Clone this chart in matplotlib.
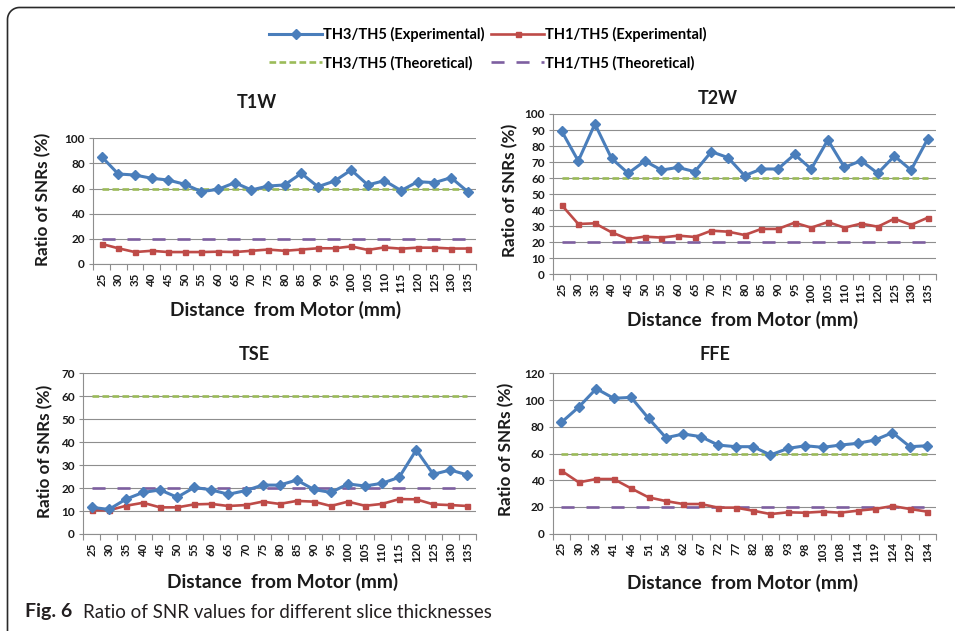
import numpy as np
import matplotlib
matplotlib.use("Agg")
import matplotlib.pyplot as plt
from matplotlib.lines import Line2D

plt.rcParams['font.family'] = ['Lato', 'DejaVu Sans']
plt.rcParams['lines.scale_dashes'] = False

# ---------------- data ----------------
cats_std = ['25', '30', '35', '40', '45', '50', '55', '60', '65', '70', '75', '80',
            '85', '90', '95', '100', '105', '110', '115', '120', '125', '130', '135']
cats_ffe = ['25', '30', '36', '41', '46', '51', '56', '62', '67', '72', '77', '82',
            '88', '93', '98', '103', '108', '114', '119', '124', '129', '134']

t1w_th3 = [85.4, 71.6, 70.8, 68.2, 66.8, 63.4, 57.6, 59.4, 64.7, 58.9, 62.0, 62.9,
           72.1, 61.5, 66.0, 74.8, 62.9, 66.3, 58.4, 65.5, 64.7, 68.7, 57.6]
t1w_th1 = [16.0, 12.5, 9.5, 10.5, 9.5, 9.5, 9.5, 9.8, 9.5, 10.5, 11.5, 10.5,
           11.5, 12.5, 12.5, 14.0, 11.2, 13.2, 12.2, 13.0, 13.0, 12.3, 12.3]

t2w_th3 = [89.4, 70.7, 93.8, 72.3, 63.0, 70.7, 65.0, 66.7, 64.0, 76.5, 72.8, 61.5,
           65.7, 65.7, 74.8, 65.7, 83.8, 66.7, 70.9, 63.0, 73.8, 65.0, 84.4]
t2w_th1 = [43.2, 31.4, 31.8, 26.2, 22.0, 23.5, 22.9, 24.1, 23.3, 27.2, 26.6, 24.5,
           28.3, 28.3, 32.2, 29.1, 32.6, 29.1, 31.6, 29.7, 34.7, 30.8, 35.3]

tse_th3 = [11.6, 10.7, 15.2, 18.1, 19.2, 16.0, 20.3, 19.2, 17.3, 18.9, 21.3, 21.3,
           23.5, 19.4, 18.1, 21.8, 20.9, 22.1, 24.7, 36.6, 26.0, 27.9, 25.7]
tse_th1 = [10.4, 10.3, 12.3, 13.6, 11.6, 11.6, 12.9, 13.1, 12.2, 12.6, 14.1, 13.1,
           14.4, 14.1, 12.2, 14.1, 12.3, 13.1, 15.2, 15.1, 12.9, 12.6, 12.2]

ffe_th3 = [83.3, 94.8, 108.5, 101.3, 102.0, 86.3, 71.8, 74.6, 72.6, 66.3, 65.1, 65.1,
           58.9, 63.8, 65.8, 64.6, 66.3, 67.6, 70.1, 75.6, 65.1, 65.8]
ffe_th1 = [47.1, 38.4, 40.9, 40.9, 33.9, 27.2, 24.4, 22.2, 22.2, 19.5, 19.5, 17.2,
           14.7, 16.0, 15.7, 16.5, 15.7, 17.2, 18.5, 20.7, 18.5, 16.5]

theo_th3 = 60   # theoretical TH3/TH5 ratio (%)
theo_th1 = 20   # theoretical TH1/TH5 ratio (%)

titles = ['T1W', 'T2W', 'TSE', 'FFE']
series_labels = ['TH3/TH5 (Experimental)', 'TH1/TH5 (Experimental)',
                 'TH3/TH5 (Theoretical)', 'TH1/TH5 (Theoretical)']
xlabel = 'Distance  from Motor (mm)'
ylabel = 'Ratio of SNRs (%)'
caption_bold = 'Fig. 6'
caption_text = 'Ratio of SNR values for different slice thicknesses'

# ---------------- style ----------------
BLUE = '#4A7EBB'
RED = '#BE4B48'
GREEN = '#9BBB59'
PURPLE = '#7D5FA0'
GRID = '#8E8E8E'
TXT = '#1a1a1a'

W, H = 955, 631
fig = plt.figure(figsize=(W / 100, H / 100), dpi=100)


def rect(l, t, r, b):
    return [l / W, 1 - b / H, (r - l) / W, (b - t) / H]


def fx(x):
    return x / W


def fy(y):
    return 1 - y / H


panels = [
    dict(title=titles[0], cats=cats_std, th3=t1w_th3, th1=t1w_th1, ymax=100, step=20,
         rect=rect(93.3, 138.3, 476, 264), t=(257, 102), xl=(286, 310), yl=(43, 199)),
    dict(title=titles[1], cats=cats_std, th3=t2w_th3, th1=t2w_th1, ymax=100, step=10,
         rect=rect(553.3, 114, 936, 274.3), t=(718, 98), xl=(743, 320), yl=(510, 190)),
    dict(title=titles[2], cats=cats_std, th3=tse_th3, th1=tse_th1, ymax=70, step=10,
         rect=rect(83.3, 373.3, 476, 534), t=(254, 354), xl=(283, 582), yl=(45, 451)),
    dict(title=titles[3], cats=cats_ffe, th3=ffe_th3, th1=ffe_th1, ymax=120, step=20,
         rect=rect(552.7, 373.3, 936, 533.7), t=(715, 354), xl=(743, 583), yl=(506, 449)),
]

handles = None
for p in panels:
    ax = fig.add_axes(p['rect'])
    n = len(p['cats'])
    x = np.arange(n)
    h_th3, = ax.plot(x, p['th3'], color=BLUE, lw=2.2, marker='D', ms=5.5,
                     zorder=5, label=series_labels[0])
    h_th1, = ax.plot(x, p['th1'], color=RED, lw=1.9, marker='s', ms=3.6,
                     zorder=4, label=series_labels[1])
    h_t3, = ax.plot(x, [theo_th3] * n, color=GREEN, lw=1.9, dashes=(4.8, 2.4),
                    zorder=3, label=series_labels[2])
    h_t1, = ax.plot(x, [theo_th1] * n, color=PURPLE, lw=1.9, dashes=(9.4, 8.6),
                    zorder=3, label=series_labels[3])
    if handles is None:
        handles = [h_th3, h_t3, h_th1, h_t1]

    ax.set_xlim(-0.5, n - 0.5)
    ax.set_ylim(0, p['ymax'])
    ax.set_yticks(np.arange(0, p['ymax'] + 1, p['step']))
    ax.yaxis.grid(True, color=GRID, lw=0.8)
    ax.set_axisbelow(True)
    ax.set_xticks(x)
    ax.set_xticklabels(p['cats'], rotation=90, fontweight='bold', fontsize=8.3,
                       color=TXT)
    ax.set_xticks(np.arange(-0.5, n, 1.0), minor=True)
    ax.tick_params(axis='x', which='major', length=0, pad=6)
    ax.tick_params(axis='x', which='minor', length=4, color=GRID, width=0.8)
    ax.tick_params(axis='y', length=3, color=GRID, width=0.8, labelsize=8.5, pad=3,
                   labelcolor=TXT)
    for lab in ax.get_yticklabels():
        lab.set_fontweight('bold')
    for s in ['top', 'right']:
        ax.spines[s].set_visible(False)
    for s in ['left', 'bottom']:
        ax.spines[s].set_color(GRID)
        ax.spines[s].set_linewidth(0.8)

    fig.text(fx(p['t'][0]), fy(p['t'][1]), p['title'], fontsize=13, fontweight='bold',
             ha='center', va='center', color=TXT)
    fig.text(fx(p['xl'][0]), fy(p['xl'][1]), xlabel, fontsize=13.8, fontweight='bold',
             ha='center', va='center', color=TXT)
    fig.text(fx(p['yl'][0]), fy(p['yl'][1]), ylabel, fontsize=12.3, fontweight='bold',
             ha='center', va='center', rotation=90, color=TXT)

fig.legend(handles, [h.get_label() for h in handles], ncol=2, loc='center',
           bbox_to_anchor=(fx(488), fy(48.5)), frameon=False,
           prop=dict(size=10.5, weight='bold'), handlelength=3.6, handletextpad=0.1,
           columnspacing=0.45, labelspacing=0.95, borderpad=0, borderaxespad=0,
           numpoints=1)

# caption
fig.text(fx(25), fy(612), caption_bold, fontsize=14, fontweight='bold', ha='left',
         va='center', color='#231f20')
fig.text(fx(83), fy(612), caption_text, fontsize=13.5, ha='left', va='center',
         color='#231f20')

# rounded frame (top and left edges)
r = 12
th = np.linspace(np.pi, np.pi / 2, 20)
bx = np.concatenate([[7.5], 7.5 + r + r * np.cos(th), [W]])
by = np.concatenate([[H], 7.5 + r - r * np.sin(th), [7.5]])
fig.add_artist(Line2D(bx / W, 1 - by / H, transform=fig.transFigure, color='#2a2a2a',
                      lw=1.2, solid_capstyle='butt'))

fig.savefig('out.png', dpi=100)
